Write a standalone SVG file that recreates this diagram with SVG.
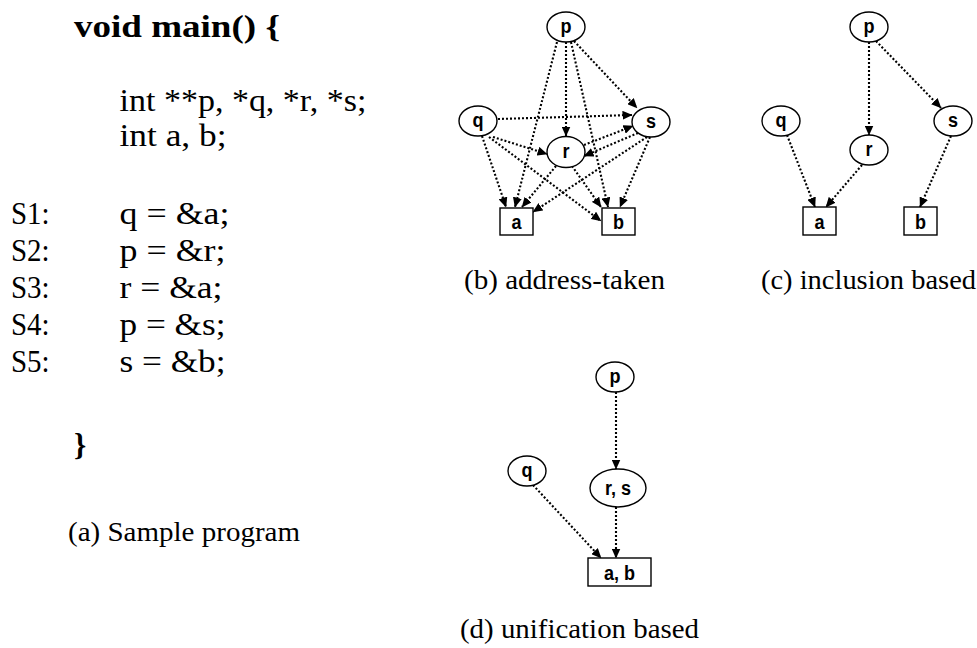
<svg xmlns="http://www.w3.org/2000/svg" width="977" height="648" viewBox="0 0 977 648">
  <style>
    .code { font-family: "Liberation Serif", "Times New Roman", serif; font-size: 31px; fill: #000; }
    .bold { font-weight: bold; }
    .cap { font-family: "Liberation Serif", "Times New Roman", serif; font-size: 27px; fill: #000; }
    .node { fill: #fff; stroke: #000; stroke-width: 1.4; }
    .lbl { font-family: "Liberation Sans", Arial, sans-serif; font-weight: bold; font-size: 21px; fill: #000; text-anchor: middle; }
    .edge { stroke: #000; stroke-width: 2.1; stroke-dasharray: 2 2; fill: none; marker-end: url(#head); }
  </style>
  <defs>
    <marker id="head" markerUnits="userSpaceOnUse" markerWidth="10" markerHeight="9" refX="9.5" refY="4.5" orient="auto">
      <path d="M0,0 L10,4.5 L0,9 z" fill="#000"/>
    </marker>
  </defs>
  <rect width="977" height="648" fill="#fff"/>

  <!-- (a) sample program -->
  <g id="program">
    <text class="code bold" x="74" y="37" textLength="206" lengthAdjust="spacingAndGlyphs">void main() {</text>
    <text class="code" x="119.5" y="111" textLength="247" lengthAdjust="spacingAndGlyphs">int **p, *q, *r, *s;</text>
    <text class="code" x="119.5" y="146" textLength="107" lengthAdjust="spacingAndGlyphs">int a, b;</text>
    <text class="code" x="11" y="224" textLength="38.6" lengthAdjust="spacingAndGlyphs">S1:</text>
    <text class="code" x="119.5" y="224" textLength="110" lengthAdjust="spacingAndGlyphs">q = &amp;a;</text>
    <text class="code" x="11" y="261" textLength="38.6" lengthAdjust="spacingAndGlyphs">S2:</text>
    <text class="code" x="119.5" y="261" textLength="106" lengthAdjust="spacingAndGlyphs">p = &amp;r;</text>
    <text class="code" x="11" y="298" textLength="38.6" lengthAdjust="spacingAndGlyphs">S3:</text>
    <text class="code" x="119.5" y="298" textLength="103" lengthAdjust="spacingAndGlyphs">r = &amp;a;</text>
    <text class="code" x="11" y="335" textLength="38.6" lengthAdjust="spacingAndGlyphs">S4:</text>
    <text class="code" x="119.5" y="335" textLength="106" lengthAdjust="spacingAndGlyphs">p = &amp;s;</text>
    <text class="code" x="11" y="372" textLength="38.6" lengthAdjust="spacingAndGlyphs">S5:</text>
    <text class="code" x="119.5" y="372" textLength="106" lengthAdjust="spacingAndGlyphs">s = &amp;b;</text>
    <text class="code bold" x="74" y="455">}</text>
    <text class="cap" x="68" y="541" textLength="232" lengthAdjust="spacingAndGlyphs">(a) Sample program</text>
  </g>

  <!-- connectors of all three graphs -->
  <g id="connectors">
    <!-- (b) address-taken -->
    <path class="edge" d="M557,42 L515,207"/>
    <path class="edge" d="M566,42 L566,136"/>
    <path class="edge" d="M571,42 L608,207"/>
    <path class="edge" d="M574,41 L637,108"/>
    <path class="edge" d="M498,119 L632,115"/>
    <path class="edge" d="M493,137 L547,154"/>
    <path class="edge" d="M482,136 L506,207"/>
    <path class="edge" d="M489,137 L601,221"/>
    <path class="edge" d="M584,145 L633,126"/>
    <path class="edge" d="M556,166 L522,207"/>
    <path class="edge" d="M572,166 L601,207"/>
    <path class="edge" d="M638,133 L584,156"/>
    <path class="edge" d="M647,137 L533,212"/>
    <path class="edge" d="M650,137 L620,207"/>
    <!-- (c) inclusion based -->
    <path class="edge" d="M869,42 L869,135"/>
    <path class="edge" d="M876,41 L941,108"/>
    <path class="edge" d="M787,135 L815,207"/>
    <path class="edge" d="M862,165 L826,207"/>
    <path class="edge" d="M951,136 L920,207"/>
    <!-- (d) unification based -->
    <path class="edge" d="M616,392 L616,469"/>
    <path class="edge" d="M533,485 L601,558"/>
    <path class="edge" d="M616,507 L616,558"/>
  </g>

  <!-- (b) address-taken -->
  <g id="b-p"><ellipse class="node" cx="566" cy="27" rx="19" ry="15"/><text class="lbl" transform="translate(566,33) scale(0.86,1)">p</text></g>
  <g id="b-q"><ellipse class="node" cx="478" cy="121" rx="19" ry="15"/><text class="lbl" transform="translate(478,127) scale(0.86,1)">q</text></g>
  <g id="b-s"><ellipse class="node" cx="651" cy="122" rx="19" ry="15"/><text class="lbl" transform="translate(651,128) scale(0.86,1)">s</text></g>
  <g id="b-r"><ellipse class="node" cx="566" cy="152" rx="19" ry="15.5"/><text class="lbl" transform="translate(566,158) scale(0.86,1)">r</text></g>
  <g id="b-a"><rect class="node" x="500" y="208" width="33" height="27"/><text class="lbl" transform="translate(516.5,229) scale(0.86,1)">a</text></g>
  <g id="b-b"><rect class="node" x="602" y="208" width="33" height="27"/><text class="lbl" transform="translate(618.5,229) scale(0.86,1)">b</text></g>
  <text class="cap" x="464" y="289" textLength="201" lengthAdjust="spacingAndGlyphs">(b) address-taken</text>

  <!-- (c) inclusion based -->
  <g id="c-p"><ellipse class="node" cx="869" cy="27" rx="19" ry="15"/><text class="lbl" transform="translate(869,33) scale(0.86,1)">p</text></g>
  <g id="c-q"><ellipse class="node" cx="781" cy="121" rx="19" ry="15"/><text class="lbl" transform="translate(781,127) scale(0.86,1)">q</text></g>
  <g id="c-r"><ellipse class="node" cx="869" cy="150" rx="19" ry="15"/><text class="lbl" transform="translate(869,156) scale(0.86,1)">r</text></g>
  <g id="c-s"><ellipse class="node" cx="953" cy="121" rx="19" ry="15"/><text class="lbl" transform="translate(953,127) scale(0.86,1)">s</text></g>
  <g id="c-a"><rect class="node" x="803" y="207" width="33" height="28"/><text class="lbl" transform="translate(819.5,228.5) scale(0.86,1)">a</text></g>
  <g id="c-b"><rect class="node" x="904" y="207" width="33" height="28"/><text class="lbl" transform="translate(920.5,228.5) scale(0.86,1)">b</text></g>
  <text class="cap" x="761" y="289" textLength="215" lengthAdjust="spacingAndGlyphs">(c) inclusion based</text>

  <!-- (d) unification based -->
  <g id="d-p"><ellipse class="node" cx="615" cy="377" rx="19" ry="15"/><text class="lbl" transform="translate(615,383) scale(0.86,1)">p</text></g>
  <g id="d-q"><ellipse class="node" cx="527" cy="471" rx="19" ry="15"/><text class="lbl" transform="translate(527,477) scale(0.86,1)">q</text></g>
  <g id="d-rs"><ellipse class="node" cx="618" cy="488" rx="28" ry="19"/><text class="lbl" transform="translate(618,495) scale(0.86,1)">r, s</text></g>
  <g id="d-ab"><rect class="node" x="588" y="558" width="63" height="28"/><text class="lbl" transform="translate(619.5,579.5) scale(0.86,1)">a, b</text></g>
  <text class="cap" x="460" y="638" textLength="239" lengthAdjust="spacingAndGlyphs">(d) unification based</text>
</svg>
